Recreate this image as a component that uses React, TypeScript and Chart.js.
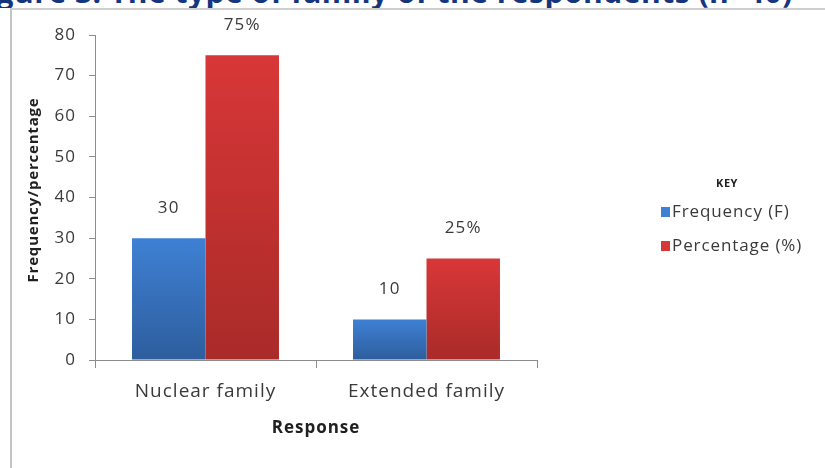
import React, { useEffect, useRef } from "react";
import { Chart, registerables } from "chart.js";

Chart.register(...registerables);

const categories = ["Nuclear family", "Extended family"];
const frequency = [30, 10];
const percentage = [75, 25];
const frequencyLabels = ["30", "10"];
const percentageLabels = ["75%", "25%"];
const seriesNames = ["Frequency (F)", "Percentage (%)"];
const yTicks = { min: 0, max: 80, step: 10 };

const FONT = "'Open Sans', 'DejaVu Sans', sans-serif";
const TEXT = "#3a3a3a";
const AXIS = "#8c8c8c";

const blueTop = "#3f80d4";
const blueBottom = "#2d5e9d";
const redTop = "#d83737";
const redBottom = "#a92b29";

function barGradient(top: string, bottom: string) {
  return (ctx: any) => {
    const chart = ctx.chart;
    const y = chart.scales?.y;
    if (!y || ctx.parsed == null) return top;
    const yTop = y.getPixelForValue(ctx.parsed.y);
    const yBottom = y.getPixelForValue(0);
    if (!isFinite(yTop) || !isFinite(yBottom) || yTop === yBottom) return top;
    const g = chart.ctx.createLinearGradient(0, yTop, 0, yBottom);
    g.addColorStop(0, top);
    g.addColorStop(1, bottom);
    return g;
  };
}

// slightly wider letter spacing for the axis text
const spacing = {
  id: "spacing",
  beforeDraw(chart: any) {
    chart.ctx.letterSpacing = "1px";
  },
};

// value labels above every bar
const valueLabels = {
  id: "valueLabels",
  afterDatasetsDraw(chart: any) {
    const { ctx } = chart;
    const texts = [frequencyLabels, percentageLabels];
    ctx.save();
    ctx.letterSpacing = "1.2px";
    ctx.font = `17px ${FONT}`;
    ctx.fillStyle = TEXT;
    ctx.textAlign = "center";
    ctx.textBaseline = "middle";
    chart.data.datasets.forEach((_: any, di: number) => {
      const meta = chart.getDatasetMeta(di);
      meta.data.forEach((el: any, i: number) => {
        ctx.fillText(texts[di][i], el.x, el.y - 30);
      });
    });
    ctx.restore();
  },
};

// vertical axis title and the "KEY" legend on the right
const extras = {
  id: "extras",
  afterDraw(chart: any) {
    const { ctx } = chart;
    ctx.save();
    ctx.letterSpacing = "0.8px";
    ctx.translate(34, 190);
    ctx.rotate(-Math.PI / 2);
    ctx.font = `bold 15px ${FONT}`;
    ctx.fillStyle = "#202020";
    ctx.textAlign = "center";
    ctx.textBaseline = "middle";
    ctx.fillText("Frequency/percentage", 0, 0);
    ctx.restore();

    const colors = [blueTop, redTop];
    ctx.save();
    ctx.letterSpacing = "0.5px";
    ctx.font = `bold 11px ${FONT}`;
    ctx.fillStyle = "#202020";
    ctx.textAlign = "center";
    ctx.textBaseline = "middle";
    ctx.fillText("KEY", 727, 184);
    ctx.letterSpacing = "0.9px";
    ctx.font = `17px ${FONT}`;
    ctx.textAlign = "left";
    seriesNames.forEach((name, i) => {
      const cy = 212 + i * 34;
      ctx.fillStyle = colors[i];
      ctx.fillRect(661, cy - 5, 9, 10);
      ctx.fillStyle = TEXT;
      ctx.fillText(name, 672, cy);
    });
    ctx.restore();
  },
};

export default function App() {
  const canvasRef = useRef<HTMLCanvasElement | null>(null);

  useEffect(() => {
    const canvas = canvasRef.current;
    if (!canvas) return;
    const chart = new Chart(canvas, {
      type: "bar",
      data: {
        labels: categories,
        datasets: [
          {
            label: seriesNames[0],
            data: frequency,
            backgroundColor: barGradient(blueTop, blueBottom),
            borderWidth: 0,
            barPercentage: 1,
            categoryPercentage: 0.665,
          },
          {
            label: seriesNames[1],
            data: percentage,
            backgroundColor: barGradient(redTop, redBottom),
            borderWidth: 0,
            barPercentage: 1,
            categoryPercentage: 0.665,
          },
        ],
      },
      options: {
        animation: false,
        responsive: false,
        maintainAspectRatio: false,
        layout: { padding: { left: 0, top: 35, right: 288, bottom: 0 } },
        plugins: {
          legend: { display: false },
          tooltip: { enabled: false },
        },
        scales: {
          x: {
            offset: true,
            afterFit: (s: any) => {
              s.height = 108;
            },
            grid: {
              offset: true,
              drawOnChartArea: false,
              drawTicks: true,
              tickLength: 8,
              color: AXIS,
            },
            border: { display: true, color: AXIS, width: 1 },
            ticks: {
              color: TEXT,
              padding: 12,
              font: { family: FONT, size: 19 },
            },
            title: {
              display: true,
              text: "Response",
              color: "#202020",
              font: { family: FONT, size: 17, weight: "bold" },
              padding: { top: 0, bottom: 30 },
            },
          },
          y: {
            min: yTicks.min,
            max: yTicks.max,
            afterFit: (s: any) => {
              s.width = 95;
            },
            grid: {
              drawOnChartArea: false,
              drawTicks: true,
              tickLength: 6,
              color: AXIS,
            },
            border: { display: true, color: AXIS, width: 1 },
            ticks: {
              stepSize: yTicks.step,
              color: TEXT,
              padding: 13,
              font: { family: FONT, size: 17 },
            },
          },
        },
      },
      plugins: [spacing, valueLabels, extras],
    });
    return () => chart.destroy();
  }, []);

  return (
    <div
      style={{
        position: "absolute",
        left: 0,
        top: 0,
        width: 825,
        height: 468,
        background: "#ffffff",
        overflow: "hidden",
      }}
    >
      <div
        style={{
          position: "absolute",
          left: 0,
          top: 0,
          width: 825,
          height: 8,
          overflow: "hidden",
        }}
      >
        <div
          style={{
            position: "absolute",
            left: -30,
            top: -26,
            whiteSpace: "nowrap",
            fontFamily: FONT,
            fontWeight: 700,
            fontSize: 30,
            lineHeight: "36px",
            letterSpacing: "0.5px",
            color: "#15367e",
          }}
        >
          Figure 3: The type of family of the respondents (n=40)
        </div>
      </div>
      <div
        style={{
          position: "absolute",
          left: 10,
          top: 8,
          width: 815,
          height: 460,
          borderLeft: "2px solid #c4c4c4",
          borderTop: "2px solid #cfcfcf",
          boxSizing: "border-box",
        }}
      />
      <canvas
        ref={canvasRef}
        width={825}
        height={468}
        style={{ position: "absolute", left: 0, top: 0, width: 825, height: 468 }}
      />
    </div>
  );
}
